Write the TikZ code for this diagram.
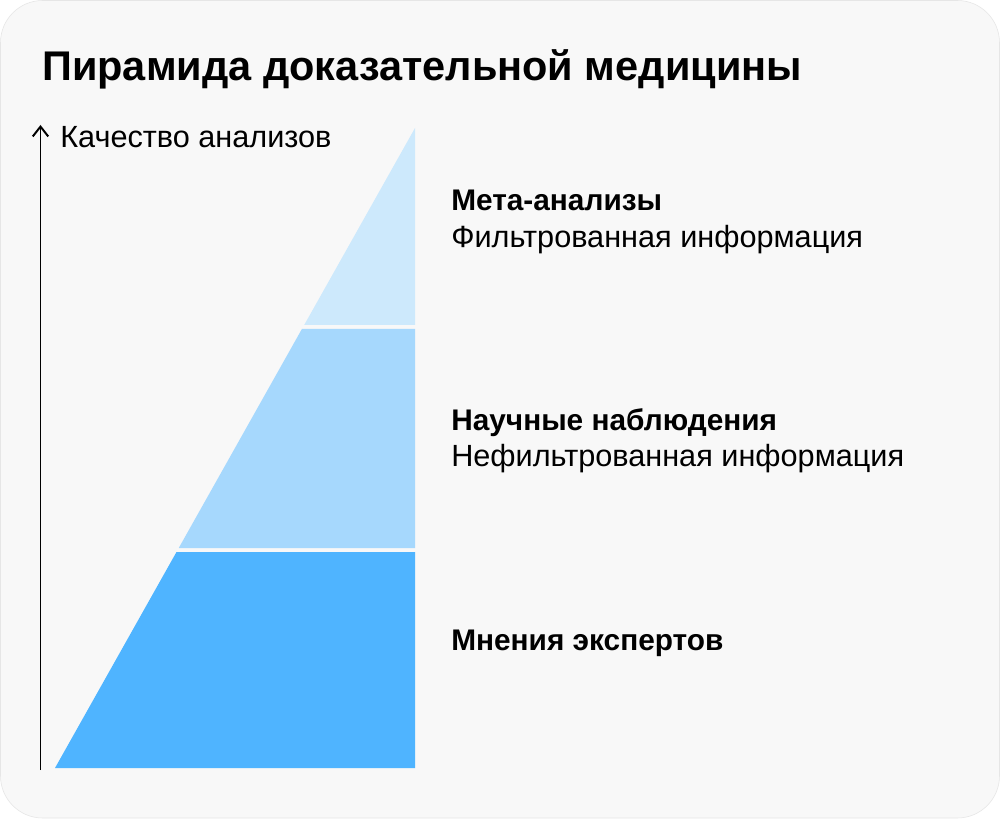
\documentclass[tikz,border=0pt]{standalone}
\usepackage{fontspec}
\setmainfont{Liberation Sans}
\usetikzlibrary{arrows.meta}
\definecolor{pyrtop}{HTML}{CDE9FC}
\definecolor{pyrmid}{HTML}{A6D8FD}
\definecolor{pyrbase}{HTML}{4FB4FF}
\definecolor{cardbg}{HTML}{F8F8F8}
\definecolor{cardline}{HTML}{E6E6E6}

\begin{document}
\begin{tikzpicture}[x=0.025cm, y=-0.025cm,
    lbl/.style={anchor=base west, inner sep=0pt, font=\fontsize{21.8}{26}\selectfont},
    lblbold/.style={lbl, font=\fontsize{21.2}{26}\selectfont\bfseries}]
                % Card
                \useasboundingbox (0,0) rectangle (1000,820);
                \fill[white] (0,0) rectangle (1000,820);
                \draw[draw=cardline, fill=cardbg, rounded corners=30] (0.5,0.5) rectangle (999.5,818);

                % Title
                \node[anchor=base west, inner sep=0pt, font=\fontsize{29.5}{36}\selectfont\bfseries] (title) at (42,81)
                    {Пирамида доказательной медицины};

                % Quality axis
                \coordinate (axisbot) at (40.5,770);
                \coordinate (axistop) at (40.5,125);
                \draw[line width=1.4pt, -{Straight Barb[length=7pt, width=11pt]}] (axisbot) -- (axistop);
                \node[lbl] (axislbl) at (60,148) {Качество анализов};

                % Pyramid tiers
                \fill[pyrtop] (415,128) -- (304.2,325) -- (415,325) -- cycle;
                \fill[pyrmid] (301.9,329) -- (178.75,548) -- (415,548) -- (415,329) -- cycle;
                \fill[pyrbase] (176.5,552) -- (55,768) -- (415,768) -- (415,552) -- cycle;

                % Tier labels
                \node[lblbold] (meta) at (451,211) {Мета-анализы};
                \node[lbl] (metasub) at (451,248) {Фильтрованная информация};

                \node[lblbold] (obs) at (451,430) {Научные наблюдения};
                \node[lbl] (obssub) at (451,466) {Нефильтрованная информация};

                \node[lblbold] (expert) at (451,650) {Мнения экспертов};
            \end{tikzpicture}
\end{document}
